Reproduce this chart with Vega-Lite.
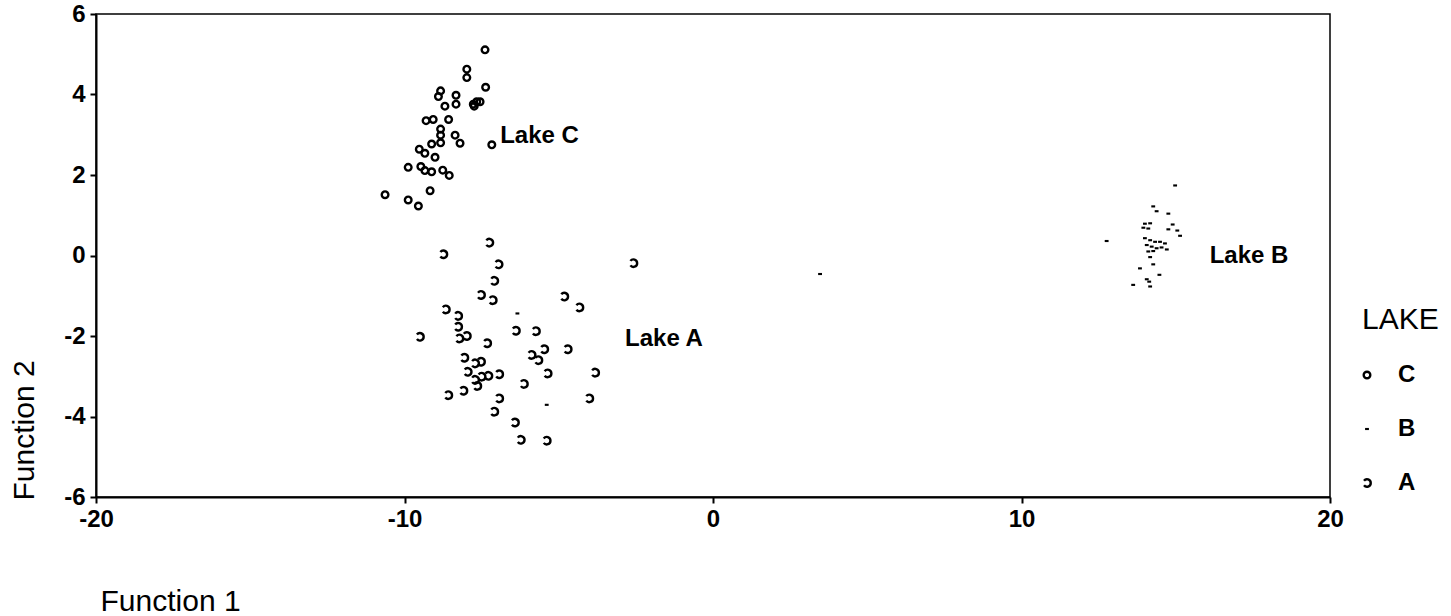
{
  "$schema": "https://vega.github.io/schema/vega-lite/v6.json",
  "width": 1234,
  "height": 483,
  "autosize": {"type": "none"},
  "padding": {"left": 96, "top": 14, "right": 121, "bottom": 119},
  "background": "white",
  "config": {"font": "Liberation Sans", "view": {"stroke": "black", "strokeWidth": 1.5}},
  "layer": [
    {
      "data": {"values": [
        {"lake": "C", "f1": -7.39, "f2": 5.11},
        {"lake": "C", "f1": -7.98, "f2": 4.63},
        {"lake": "C", "f1": -7.98, "f2": 4.42},
        {"lake": "C", "f1": -7.37, "f2": 4.18},
        {"lake": "C", "f1": -8.83, "f2": 4.09},
        {"lake": "C", "f1": -8.9, "f2": 3.95},
        {"lake": "C", "f1": -8.33, "f2": 3.98},
        {"lake": "C", "f1": -8.33, "f2": 3.76},
        {"lake": "C", "f1": -8.69, "f2": 3.71},
        {"lake": "C", "f1": -7.77, "f2": 3.76},
        {"lake": "C", "f1": -7.66, "f2": 3.82},
        {"lake": "C", "f1": -7.55, "f2": 3.82},
        {"lake": "C", "f1": -7.74, "f2": 3.71},
        {"lake": "C", "f1": -9.3, "f2": 3.35},
        {"lake": "C", "f1": -9.07, "f2": 3.38},
        {"lake": "C", "f1": -8.57, "f2": 3.38},
        {"lake": "C", "f1": -8.83, "f2": 3.14},
        {"lake": "C", "f1": -8.83, "f2": 2.99},
        {"lake": "C", "f1": -8.36, "f2": 2.99},
        {"lake": "C", "f1": -8.2, "f2": 2.79},
        {"lake": "C", "f1": -8.83, "f2": 2.8},
        {"lake": "C", "f1": -9.12, "f2": 2.77},
        {"lake": "C", "f1": -7.17, "f2": 2.75},
        {"lake": "C", "f1": -9.52, "f2": 2.64},
        {"lake": "C", "f1": -9.34, "f2": 2.54},
        {"lake": "C", "f1": -9.01, "f2": 2.44},
        {"lake": "C", "f1": -9.88, "f2": 2.19},
        {"lake": "C", "f1": -9.47, "f2": 2.21},
        {"lake": "C", "f1": -9.34, "f2": 2.11},
        {"lake": "C", "f1": -9.12, "f2": 2.08},
        {"lake": "C", "f1": -8.76, "f2": 2.12},
        {"lake": "C", "f1": -8.55, "f2": 1.99},
        {"lake": "C", "f1": -9.17, "f2": 1.61},
        {"lake": "C", "f1": -10.63, "f2": 1.51},
        {"lake": "C", "f1": -9.88, "f2": 1.38},
        {"lake": "C", "f1": -9.55, "f2": 1.23},
        {"lake": "A", "f1": -7.25, "f2": 0.32},
        {"lake": "A", "f1": -8.74, "f2": 0.03},
        {"lake": "A", "f1": -6.95, "f2": -0.22},
        {"lake": "A", "f1": -7.09, "f2": -0.63},
        {"lake": "A", "f1": -7.52, "f2": -0.98},
        {"lake": "A", "f1": -7.14, "f2": -1.11},
        {"lake": "A", "f1": -4.82, "f2": -1.02},
        {"lake": "A", "f1": -4.33, "f2": -1.29},
        {"lake": "A", "f1": -8.66, "f2": -1.34},
        {"lake": "A", "f1": -8.26, "f2": -1.5},
        {"lake": "A", "f1": -8.26, "f2": -1.77},
        {"lake": "A", "f1": -6.39, "f2": -1.87},
        {"lake": "A", "f1": -5.74, "f2": -1.88},
        {"lake": "A", "f1": -7.98, "f2": -2.0},
        {"lake": "A", "f1": -8.22, "f2": -2.06},
        {"lake": "A", "f1": -9.5, "f2": -2.02},
        {"lake": "A", "f1": -7.32, "f2": -2.18},
        {"lake": "A", "f1": -5.47, "f2": -2.33},
        {"lake": "A", "f1": -4.71, "f2": -2.33},
        {"lake": "A", "f1": -5.88, "f2": -2.47},
        {"lake": "A", "f1": -5.66, "f2": -2.6},
        {"lake": "A", "f1": -8.06, "f2": -2.54},
        {"lake": "A", "f1": -7.52, "f2": -2.64},
        {"lake": "A", "f1": -7.71, "f2": -2.68},
        {"lake": "A", "f1": -5.36, "f2": -2.93},
        {"lake": "A", "f1": -3.82, "f2": -2.91},
        {"lake": "A", "f1": -7.95, "f2": -2.89},
        {"lake": "A", "f1": -7.28, "f2": -2.99},
        {"lake": "A", "f1": -6.93, "f2": -2.95},
        {"lake": "A", "f1": -7.5, "f2": -3.01},
        {"lake": "A", "f1": -7.71, "f2": -3.09},
        {"lake": "A", "f1": -7.64, "f2": -3.24},
        {"lake": "A", "f1": -6.13, "f2": -3.19},
        {"lake": "A", "f1": -8.09, "f2": -3.36},
        {"lake": "A", "f1": -8.58, "f2": -3.47},
        {"lake": "A", "f1": -6.93, "f2": -3.55},
        {"lake": "A", "f1": -4.01, "f2": -3.55},
        {"lake": "A", "f1": -7.09, "f2": -3.88},
        {"lake": "A", "f1": -6.42, "f2": -4.15},
        {"lake": "A", "f1": -6.23, "f2": -4.58},
        {"lake": "A", "f1": -5.39, "f2": -4.6},
        {"lake": "A", "f1": -2.58, "f2": -0.19},
        {"lake": "B", "f1": -6.34, "f2": -1.44},
        {"lake": "B", "f1": -5.39, "f2": -3.71},
        {"lake": "B", "f1": 3.47, "f2": -0.46},
        {"lake": "B", "f1": 14.98, "f2": 1.74},
        {"lake": "B", "f1": 14.27, "f2": 1.22},
        {"lake": "B", "f1": 14.38, "f2": 1.1},
        {"lake": "B", "f1": 14.76, "f2": 1.04},
        {"lake": "B", "f1": 14.0, "f2": 0.79},
        {"lake": "B", "f1": 14.17, "f2": 0.8},
        {"lake": "B", "f1": 13.95, "f2": 0.69},
        {"lake": "B", "f1": 14.11, "f2": 0.67},
        {"lake": "B", "f1": 14.76, "f2": 0.65},
        {"lake": "B", "f1": 14.9, "f2": 0.77},
        {"lake": "B", "f1": 15.05, "f2": 0.62},
        {"lake": "B", "f1": 15.14, "f2": 0.49},
        {"lake": "B", "f1": 12.76, "f2": 0.36},
        {"lake": "B", "f1": 14.0, "f2": 0.43},
        {"lake": "B", "f1": 14.17, "f2": 0.38},
        {"lake": "B", "f1": 14.33, "f2": 0.34},
        {"lake": "B", "f1": 14.49, "f2": 0.34},
        {"lake": "B", "f1": 14.65, "f2": 0.3},
        {"lake": "B", "f1": 14.06, "f2": 0.26},
        {"lake": "B", "f1": 14.22, "f2": 0.22},
        {"lake": "B", "f1": 14.38, "f2": 0.18},
        {"lake": "B", "f1": 14.54, "f2": 0.2},
        {"lake": "B", "f1": 14.71, "f2": 0.15},
        {"lake": "B", "f1": 14.11, "f2": 0.1},
        {"lake": "B", "f1": 14.27, "f2": 0.11},
        {"lake": "B", "f1": 14.17, "f2": -0.04},
        {"lake": "B", "f1": 14.27, "f2": -0.22},
        {"lake": "B", "f1": 13.84, "f2": -0.32},
        {"lake": "B", "f1": 14.47, "f2": -0.48},
        {"lake": "B", "f1": 14.06, "f2": -0.59},
        {"lake": "B", "f1": 14.14, "f2": -0.65},
        {"lake": "B", "f1": 14.17, "f2": -0.77},
        {"lake": "B", "f1": 13.62, "f2": -0.73}
      ]},
      "mark": {"type": "point", "filled": false, "color": "black", "opacity": 1},
      "encoding": {
        "x": {
          "field": "f1", "type": "quantitative",
          "scale": {"domain": [-20, 20], "nice": false, "zero": false},
          "axis": {
            "values": [-20, -10, 0, 10, 20], "title": "Function 1", "grid": false,
            "labelExpr": "replace(datum.label, '\u2212', '-')",
            "domainColor": "black", "domainWidth": 2, "tickColor": "black", "tickWidth": 2, "tickSize": 6,
            "labelFont": "Liberation Sans", "labelFontSize": 24, "labelFontWeight": "bold", "labelColor": "black",
            "labelPadding": 4, "labelFlush": false,
            "titleFont": "Liberation Sans", "titleFontSize": 30, "titleFontWeight": "normal", "titleColor": "black",
            "titleAnchor": "start", "titleAlign": "left", "titleX": 4, "titleY": 113, "titleBaseline": "alphabetic"
          }
        },
        "y": {
          "field": "f2", "type": "quantitative",
          "scale": {"domain": [-6, 6], "nice": false, "zero": false},
          "axis": {
            "values": [-6, -4, -2, 0, 2, 4, 6], "title": "Function 2", "grid": false,
            "labelExpr": "replace(datum.label, '\u2212', '-')",
            "domainColor": "black", "domainWidth": 2, "tickColor": "black", "tickWidth": 2, "tickSize": 6,
            "labelFont": "Liberation Sans", "labelFontSize": 24, "labelFontWeight": "bold", "labelColor": "black",
            "labelPadding": 5, "labelFlush": false,
            "titleFont": "Liberation Sans", "titleFontSize": 30, "titleFontWeight": "normal", "titleColor": "black",
            "titleAngle": -90, "titleAnchor": "start", "titleAlign": "left", "titleX": -63, "titleY": 486, "titleBaseline": "alphabetic"
          }
        },
        "shape": {
          "field": "lake", "type": "nominal",
          "scale": {"domain": ["C", "B", "A"], "range": ["circle", "M-1,-0.3L1,-0.3L1,0.3L-1,0.3Z", "M -0.8 -0.6 A 1 1 0 1 1 -0.8 0.6"]},
          "legend": {
            "title": "LAKE", "orient": "none", "legendX": 1266, "legendY": 291,
            "titleFont": "Liberation Sans", "titleFontSize": 30, "titleFontWeight": "normal", "titleColor": "black",
            "labelFont": "Liberation Sans", "labelFontSize": 24, "labelFontWeight": "bold", "labelColor": "black",
            "rowPadding": 30, "labelOffset": 19, "titlePadding": 28, "symbolOffset": -7,
            "symbolStrokeColor": "black", "symbolFillColor": "transparent"
          }
        },
        "size": {
          "field": "lake", "type": "nominal",
          "scale": {"type": "ordinal", "domain": ["C", "B", "A"], "range": [44, 6, 56]},
          "legend": {
            "title": "LAKE", "orient": "none", "legendX": 1266, "legendY": 291,
            "titleFont": "Liberation Sans", "titleFontSize": 30, "titleFontWeight": "normal", "titleColor": "black",
            "labelFont": "Liberation Sans", "labelFontSize": 24, "labelFontWeight": "bold", "labelColor": "black",
            "rowPadding": 30, "labelOffset": 19, "titlePadding": 28, "symbolOffset": -7,
            "symbolStrokeColor": "black", "symbolFillColor": "transparent"
          }
        },
        "strokeWidth": {
          "field": "lake", "type": "nominal",
          "scale": {"type": "ordinal", "domain": ["C", "B", "A"], "range": [2.4, 1.4, 2.4]},
          "legend": {
            "title": "LAKE", "orient": "none", "legendX": 1266, "legendY": 291,
            "titleFont": "Liberation Sans", "titleFontSize": 30, "titleFontWeight": "normal", "titleColor": "black",
            "labelFont": "Liberation Sans", "labelFontSize": 24, "labelFontWeight": "bold", "labelColor": "black",
            "rowPadding": 30, "labelOffset": 19, "titlePadding": 28, "symbolOffset": -7,
            "symbolStrokeColor": "black", "symbolFillColor": "transparent"
          }
        }
      }
    },
    {
      "data": {"values": [
        {"label": "Lake C", "f1": -6.9, "f2": 2.97},
        {"label": "Lake A", "f1": -2.85, "f2": -2.07},
        {"label": "Lake B", "f1": 16.1, "f2": 0.0}
      ]},
      "mark": {"type": "text", "align": "left", "baseline": "middle", "font": "Liberation Sans", "fontSize": 24, "fontWeight": "bold", "color": "black"},
      "encoding": {
        "x": {"field": "f1", "type": "quantitative"},
        "y": {"field": "f2", "type": "quantitative"},
        "text": {"field": "label", "type": "nominal"}
      }
    }
  ]
}
